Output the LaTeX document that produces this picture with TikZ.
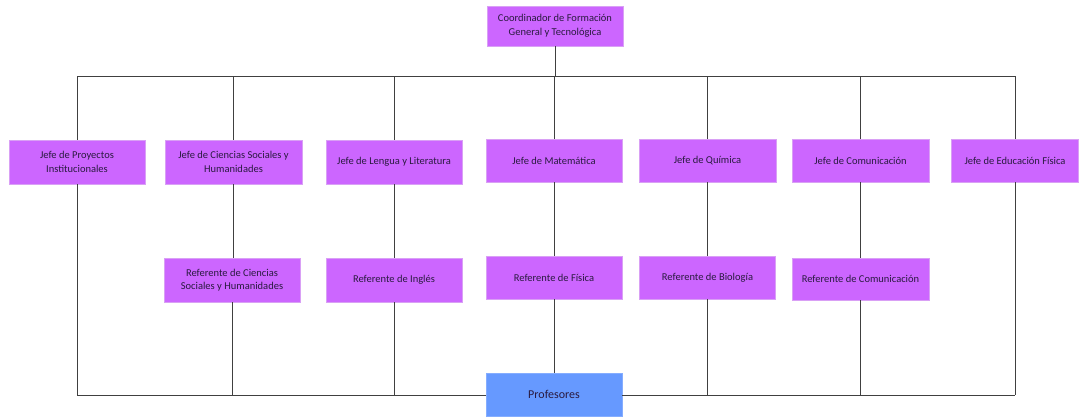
\documentclass[tikz,border=0pt]{standalone}
\usepackage{fontspec}
\setmainfont{Carlito}
\definecolor{boxpurple}{HTML}{CC66FF}
\definecolor{boxedge}{HTML}{D9A0F5}
\definecolor{profblue}{HTML}{6699FF}
\definecolor{linegray}{HTML}{404040}
\definecolor{txt}{HTML}{2A1A40}
\begin{document}
\begin{tikzpicture}[x=1pt,y=-1pt,
  org/.style={draw=boxedge, fill=boxpurple, line width=0.8pt, align=center,
    font=\fontsize{10.5}{13.5}\selectfont, text=txt, inner sep=2pt},
  prof/.style={draw=profblue!80!white, fill=profblue, align=center,
    font=\fontsize{12}{14}\selectfont, text=txt, minimum width=136, minimum height=43},
  conn/.style={draw=linegray, line width=0.8pt}]
\useasboundingbox (0,0) rectangle (1083,416);
% nodes
\node[org, minimum width=136, minimum height=40] (coord) at (555,26) {Coordinador de Formación\\General y Tecnológica};
\node[org, minimum width=136, minimum height=44] (j1) at (77,162) {Jefe de Proyectos\\Institucionales};
\node[org, minimum width=137, minimum height=44] (j2) at (233.5,162) {Jefe de Ciencias Sociales y\\Humanidades};
\node[org, minimum width=136, minimum height=44] (j3) at (394,162) {Jefe de Lengua y Literatura};
\node[org, minimum width=136, minimum height=43] (j4) at (554,160.5) {Jefe de Matemática};
\node[org, minimum width=137, minimum height=43] (j5) at (707.5,160.5) {Jefe de Química};
\node[org, minimum width=137, minimum height=43] (j6) at (860.5,160.5) {Jefe de Comunicación};
\node[org, minimum width=127, minimum height=43] (j7) at (1015,160.5) {Jefe de Educación Física};
\node[org, minimum width=136, minimum height=44] (r2) at (232,280) {Referente de Ciencias\\Sociales y Humanidades};
\node[org, minimum width=136, minimum height=44] (r3) at (394,280) {Referente de Inglés};
\node[org, minimum width=136, minimum height=43] (r4) at (554,277.5) {Referente de Física};
\node[org, minimum width=136, minimum height=43] (r5) at (707.5,277.5) {Referente de Biología};
\node[org, minimum width=137, minimum height=42] (r6) at (860.5,279) {Referente de Comunicación};
\node[prof] (pf) at (554,394.5) {Profesores};
% bus levels
\coordinate (ytop) at (0,76);
\coordinate (ybot) at (0,395);
% top structure
\draw[conn] (coord.south) -- (coord.south |- ytop);
\draw[conn] (j1.north |- ytop) -- (j7.north |- ytop);
\foreach \n in {j1,j2,j3,j4,j5,j6,j7}{
  \draw[conn] (\n.north) -- (\n.north |- ytop);
}
% vertical chains
\draw[conn] (j2.south) -- (j2.south |- r2.north);
\draw[conn] (j3.south) -- (r3.north);
\draw[conn] (j4.south) -- (r4.north);
\draw[conn] (j5.south) -- (r5.north);
\draw[conn] (j6.south) -- (r6.north);
\draw[conn] (r4.south) -- (pf.north);
\draw[conn] (j1.south) -- (j1.south |- ybot);
\draw[conn] (j7.south) -- (j7.south |- ybot);
\draw[conn] (r2.south) -- (r2.south |- ybot);
\draw[conn] (r3.south) -- (r3.south |- ybot);
\draw[conn] (r5.south) -- (r5.south |- ybot);
\draw[conn] (r6.south) -- (r6.south |- ybot);
% bottom bus
\draw[conn] (j1.south |- ybot) -- (pf.west |- ybot);
\draw[conn] (pf.east |- ybot) -- (j7.south |- ybot);
\end{tikzpicture}
\end{document}
